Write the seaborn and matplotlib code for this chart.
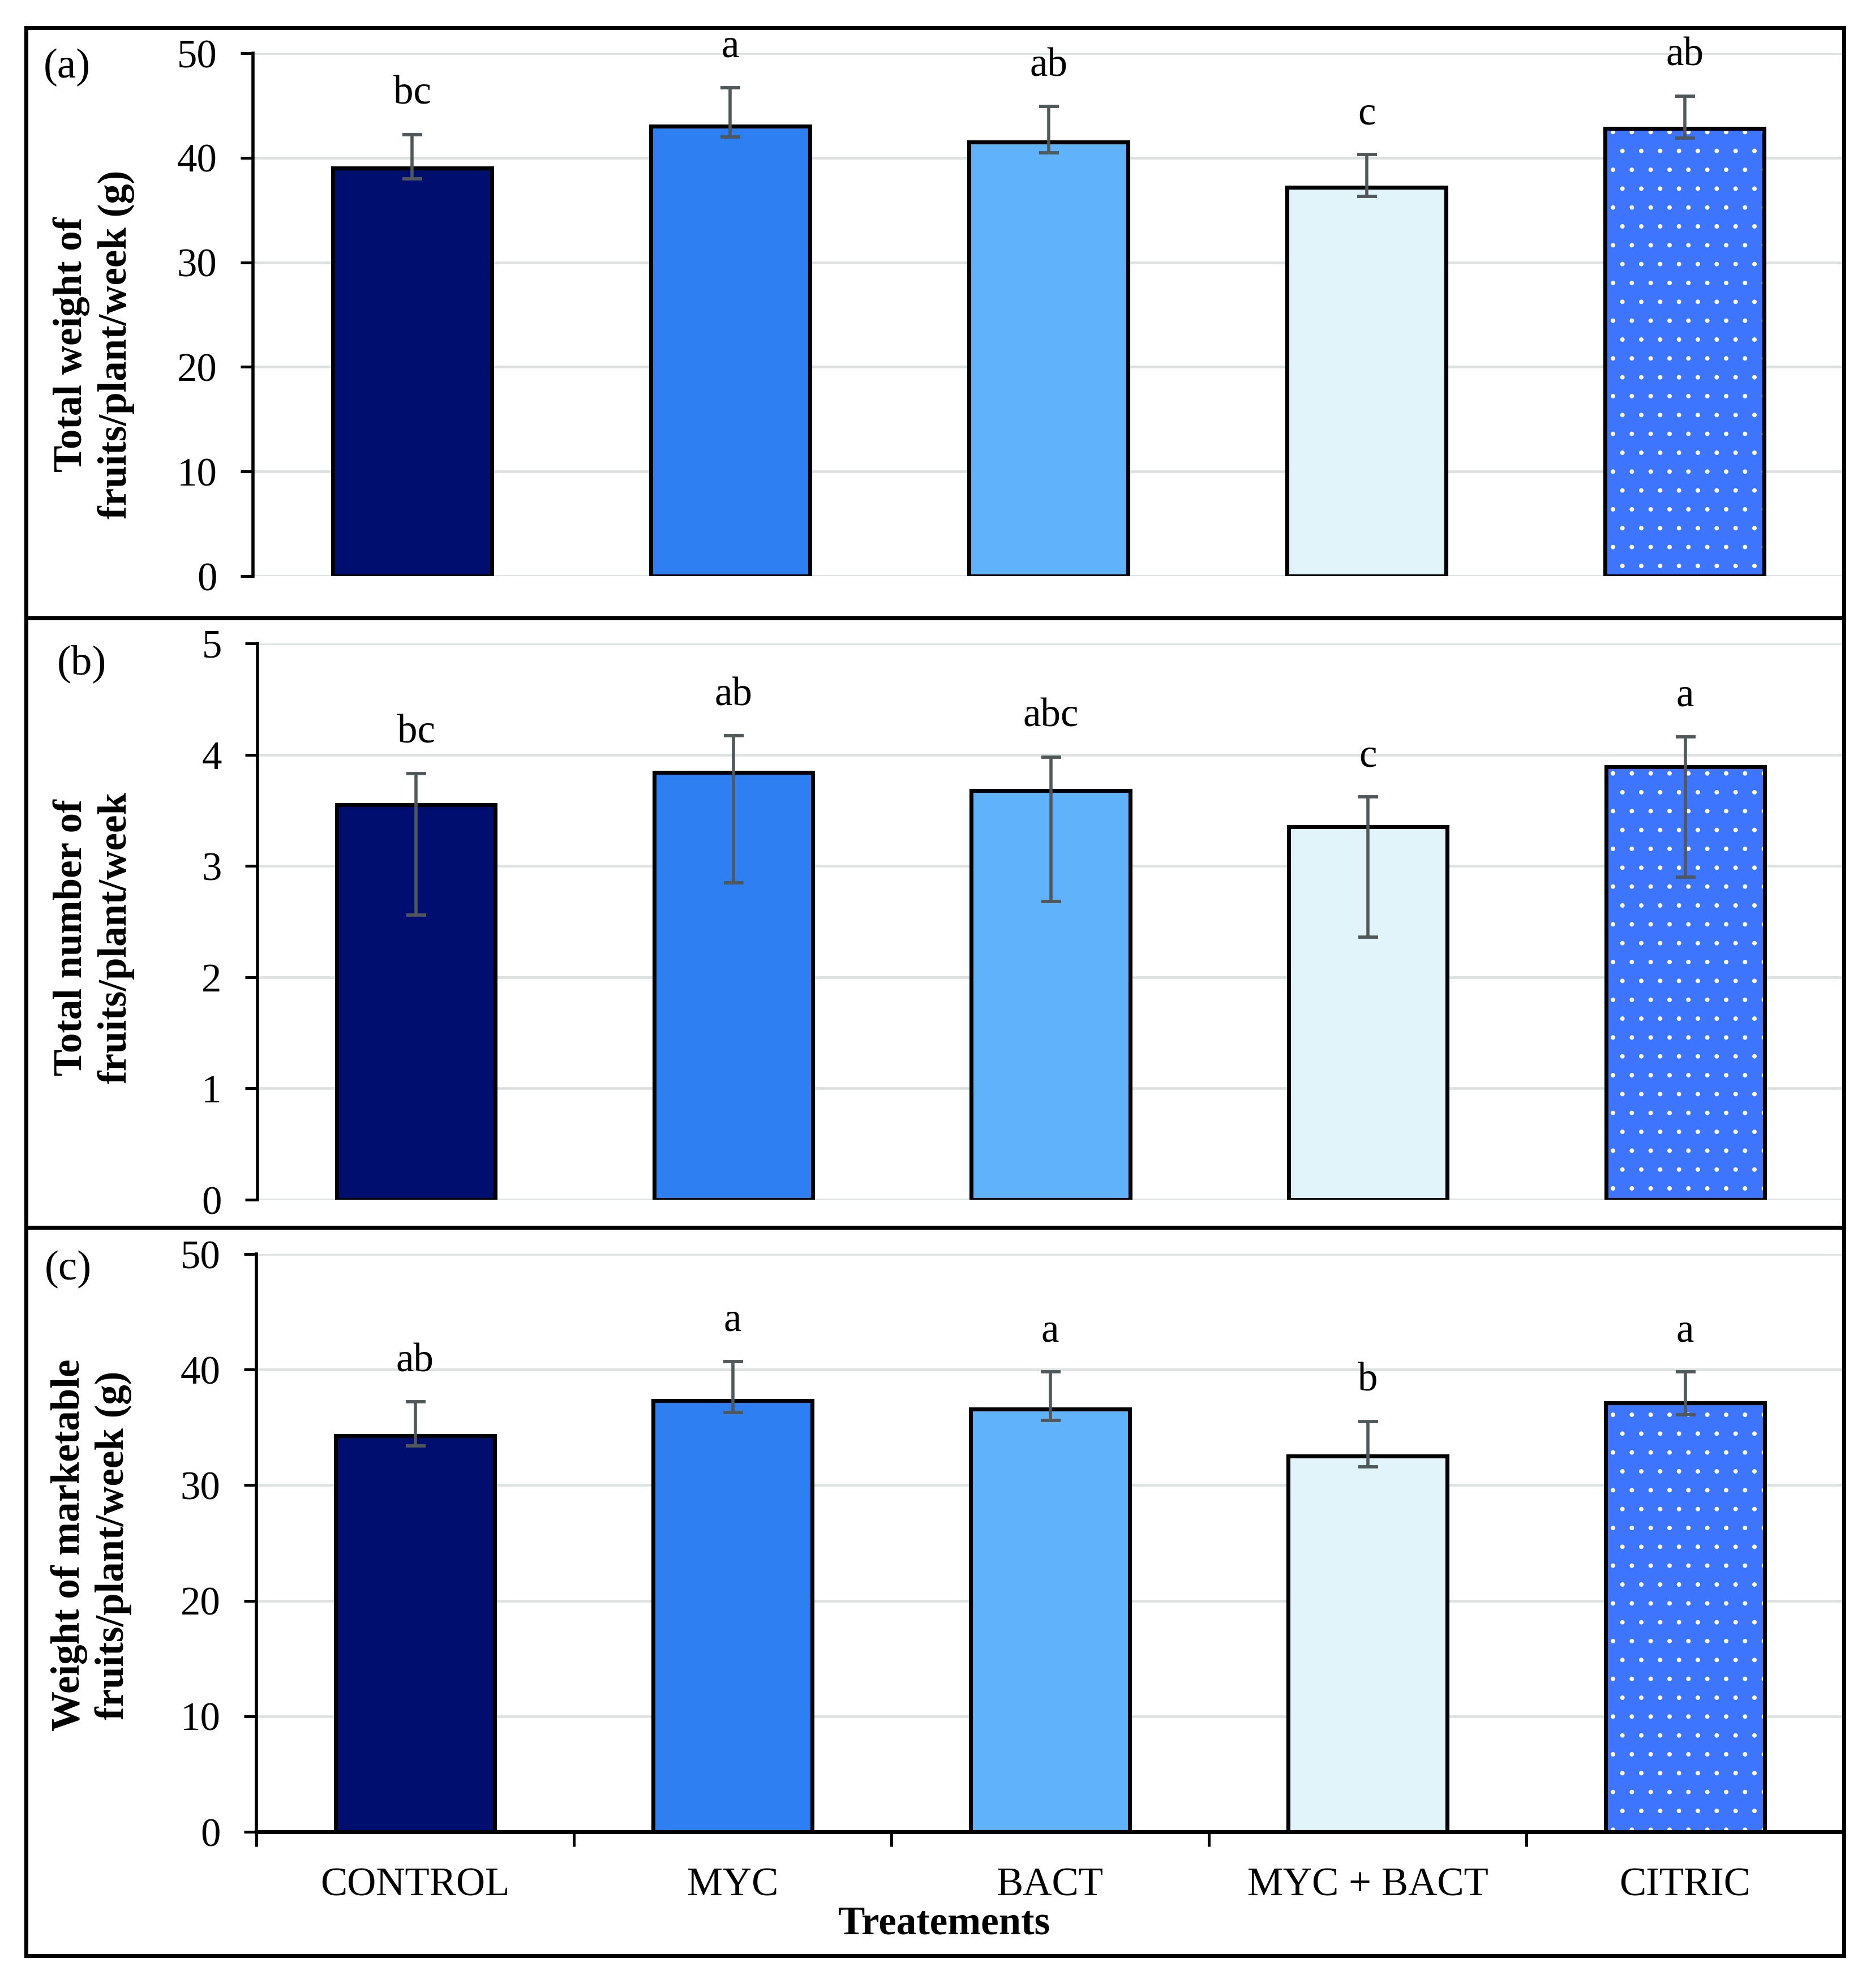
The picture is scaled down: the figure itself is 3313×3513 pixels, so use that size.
import numpy as np
import pandas as pd
import matplotlib.pyplot as plt
from matplotlib.lines import Line2D
from matplotlib.patches import Rectangle
import seaborn as sns

# data (bar height, lower and upper end of error bar)
treatments = ["CONTROL", "MYC", "BACT", "MYC + BACT", "CITRIC"]
bar_colors = ["#000E70", "#2E80F2", "#60B3FB", "#E1F4FA", "#3E75FE"]

weight_mean = [39.0, 43.0, 41.5, 37.2, 42.8]
weight_lower = [38.0, 42.0, 40.5, 36.3, 41.9]
weight_upper = [42.2, 46.7, 44.9, 40.3, 45.9]
weight_letters = ["bc", "a", "ab", "c", "ab"]

number_mean = [3.55, 3.84, 3.68, 3.35, 3.89]
number_lower = [2.56, 2.85, 2.68, 2.36, 2.90]
number_upper = [3.83, 4.17, 3.98, 3.62, 4.16]
number_letters = ["bc", "ab", "abc", "c", "a"]

market_mean = [34.3, 37.3, 36.6, 32.5, 37.1]
market_lower = [33.4, 36.3, 35.6, 31.6, 36.1]
market_upper = [37.2, 40.7, 39.8, 35.5, 39.8]
market_letters = ["ab", "a", "a", "b", "a"]

plt.rcParams["font.family"] = ["Liberation Serif", "DejaVu Serif"]
plt.rcParams["hatch.linewidth"] = 0.15
plt.rcParams["text.color"] = "black"

W, H = 3313, 3513
fig = plt.figure(figsize=(W / 600, H / 600), dpi=600)


def frac_rect(left, top, right, bottom):
    # pixel box -> figure fraction
    return [left / W, 1 - bottom / H, (right - left) / W, (bottom - top) / H]


panels = [
    dict(mean=weight_mean, lo=weight_lower, hi=weight_upper, letters=weight_letters,
         ymax=50, step=10, ylabel="Total weight of\nfruits/plant/week (g)", tag="(a)",
         rect=frac_rect(447, 94, 3258, 1018), lab=(-0.100, 0.443), tag_xy=(77, 119)),
    dict(mean=number_mean, lo=number_lower, hi=number_upper, letters=number_letters,
         ymax=5, step=1, ylabel="Total number of\nfruits/plant/week", tag="(b)",
         rect=frac_rect(455, 1137, 3258, 2120), lab=(-0.103, 0.471), tag_xy=(101, 1173)),
    dict(mean=market_mean, lo=market_lower, hi=market_upper, letters=market_letters,
         ymax=50, step=10, ylabel="Weight of marketable\nfruits/plant/week (g)", tag="(c)",
         rect=frac_rect(453, 2216, 3258, 3237), lab=(-0.104, 0.496), tag_xy=(79, 2243)),
]

for i, pnl in enumerate(panels):
    ax = fig.add_axes(pnl["rect"])
    df = pd.DataFrame({"Treatment": treatments, "value": pnl["mean"]})
    sns.barplot(data=df, x="Treatment", y="value", hue="Treatment", order=treatments,
                hue_order=treatments, palette=bar_colors, saturation=1, width=0.5,
                edgecolor="black", linewidth=0.85, errorbar=None, legend=False, ax=ax)

    # dotted fill on the CITRIC bar (white dots, black outline drawn on top)
    bars = sorted(ax.patches, key=lambda p: p.get_x())
    p = bars[-1]
    p.set_hatch("...")
    p.set_edgecolor("white")
    p.set_linewidth(0)
    ax.add_patch(Rectangle(p.get_xy(), p.get_width(), p.get_height(), fill=False,
                           edgecolor="black", linewidth=0.85, zorder=p.get_zorder() + 0.1))

    mean = np.array(pnl["mean"])
    yerr = [mean - np.array(pnl["lo"]), np.array(pnl["hi"]) - mean]
    xpos = np.arange(len(treatments))
    ax.errorbar(xpos, mean, yerr=yerr, fmt="none", ecolor="#50585A", elinewidth=0.67,
                capsize=2.1, capthick=0.7, zorder=5)

    for x, top, txt in zip(xpos, pnl["hi"], pnl["letters"]):
        ax.annotate(txt, xy=(x, top), xytext=(0, 6.5), textcoords="offset points",
                    ha="center", va="baseline", fontsize=8.5)

    ax.set_xlim(-0.5, 4.5)
    ax.set_ylim(0, pnl["ymax"])
    ax.set_yticks(np.arange(0, pnl["ymax"] + pnl["step"] / 2, pnl["step"]))
    ax.yaxis.grid(True, color="#DCE2E0", linewidth=0.56)
    ax.set_axisbelow(True)
    for s in ["top", "right"]:
        ax.spines[s].set_visible(False)
    ax.spines["left"].set_linewidth(0.67)
    ax.spines["left"].set_color("black")
    ax.tick_params(axis="y", direction="out", length=2.6, width=0.6, pad=5,
                   labelsize=8.5, color="black", labelcolor="black")
    ax.set_ylabel(pnl["ylabel"], fontsize=8.5, fontweight="bold", linespacing=1.25)
    ax.yaxis.set_label_coords(*pnl["lab"])
    ax.yaxis.label.set_va("center")

    if i < 2:
        ax.spines["bottom"].set_visible(False)
        ax.tick_params(axis="x", bottom=False, labelbottom=False)
        ax.set_xlabel("")
    else:
        ax.spines["bottom"].set_linewidth(0.85)
        ax.spines["bottom"].set_color("black")
        ax.set_xticks(xpos)
        ax.set_xticklabels(treatments)
        ax.set_xticks(np.arange(-0.5, 4, 1), minor=True)
        ax.tick_params(axis="x", which="major", length=0, pad=7.5, labelsize=8.5,
                       labelcolor="black")
        ax.tick_params(axis="x", which="minor", direction="out", length=3.1, width=0.6,
                       color="black")
        ax.set_xlabel("Treatements", fontsize=8.5, fontweight="bold")
        ax.xaxis.set_label_coords(0.4335, -0.16)
        ax.xaxis.label.set_va("center")

    fig.text(pnl["tag_xy"][0] / W, 1 - pnl["tag_xy"][1] / H, pnl["tag"], fontsize=9,
             ha="left", va="center")

# panel frames
fl, fr, ft, fb = 46 / W, 3258 / W, 1 - 49 / H, 1 - 3456 / H
for xs, ys in [([fl, fr], [ft, ft]), ([fl, fr], [fb, fb]), ([fl, fl], [fb, ft]),
               ([fr, fr], [fb, ft]), ([fl, fr], [1 - 1092 / H] * 2),
               ([fl, fr], [1 - 2169 / H] * 2)]:
    fig.add_artist(Line2D(xs, ys, color="black", linewidth=0.85))

fig.savefig("out.png", dpi=600, facecolor="white")
